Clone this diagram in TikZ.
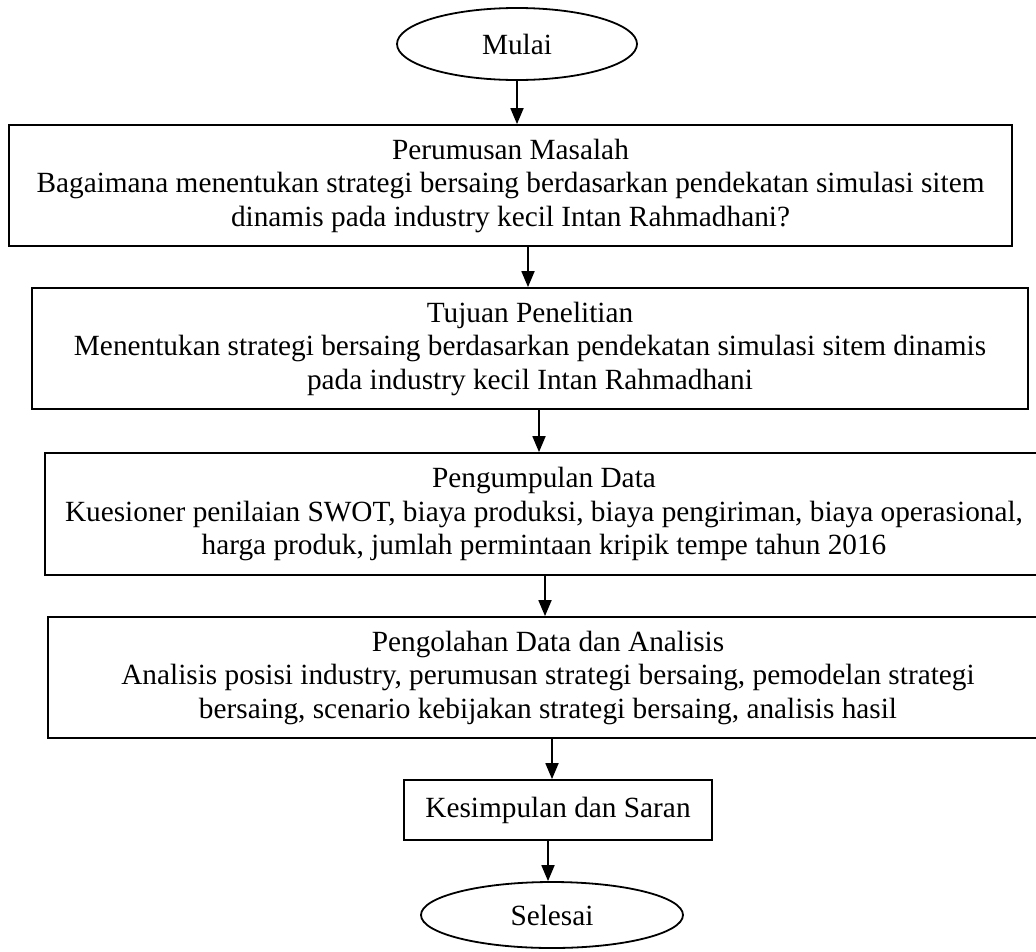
\documentclass[tikz,border=0pt]{standalone}
\usepackage{fontspec}
\setmainfont{Liberation Serif}
\usetikzlibrary{arrows.meta,shapes.geometric}
\begin{document}
\begin{tikzpicture}[x=1pt,y=-1pt,
  txt/.style={font=\fontsize{29.3}{33.5}\selectfont},
  box/.style={txt,draw,line width=1.8pt,rectangle,inner sep=0pt,align=center},
  term/.style={txt,draw,line width=1.8pt,ellipse,inner sep=0pt},
  arr/.style={line width=1.8pt,-{Triangle[length=16pt,width=13pt]}}]
\useasboundingbox (0,0) rectangle (1036,951);
\node[term,minimum width=240pt,minimum height=72pt] (mulai) at (517,44) {Mulai};
\node[box,minimum width=1003pt,minimum height=121pt] (b1) at (510.5,185.5)
  {Perumusan Masalah\\Bagaimana menentukan strategi bersaing berdasarkan pendekatan simulasi sitem\\dinamis pada industry kecil Intan Rahmadhani?};
\node[box,minimum width=996pt,minimum height=121pt] (b2) at (530,348.5)
  {Tujuan Penelitian\\Menentukan strategi bersaing berdasarkan pendekatan simulasi sitem dinamis\\pada industry kecil Intan Rahmadhani};
\node[box,minimum width=998pt,minimum height=122pt] (b3) at (544,514)
  {Pengumpulan Data\\Kuesioner penilaian SWOT, biaya produksi, biaya pengiriman, biaya operasional,\\harga produk, jumlah permintaan kripik tempe tahun 2016};
\node[box,minimum width=1000pt,minimum height=121pt] (b4) at (548,677.5)
  {Pengolahan Data dan Analisis\\Analisis posisi industry, perumusan strategi bersaing, pemodelan strategi\\bersaing, scenario kebijakan strategi bersaing, analisis hasil};
\node[box,minimum width=308pt,minimum height=60pt] (b5) at (558,810) {Kesimpulan dan Saran};
\node[term,minimum width=262pt,minimum height=66pt] (selesai) at (552,915) {Selesai};
\draw[arr] (mulai.south -| 517,0) -- (b1.north -| 517,0);
\draw[arr] (b1.south -| 528,0) -- (b2.north -| 528,0);
\draw[arr] (b2.south -| 539,0) -- (b3.north -| 539,0);
\draw[arr] (b3.south -| 545,0) -- (b4.north -| 545,0);
\draw[arr] (b4.south -| 552,0) -- (b5.north -| 552,0);
\draw[arr] (b5.south -| 548,0) -- (selesai.north -| 548,0);
\end{tikzpicture}
\end{document}
